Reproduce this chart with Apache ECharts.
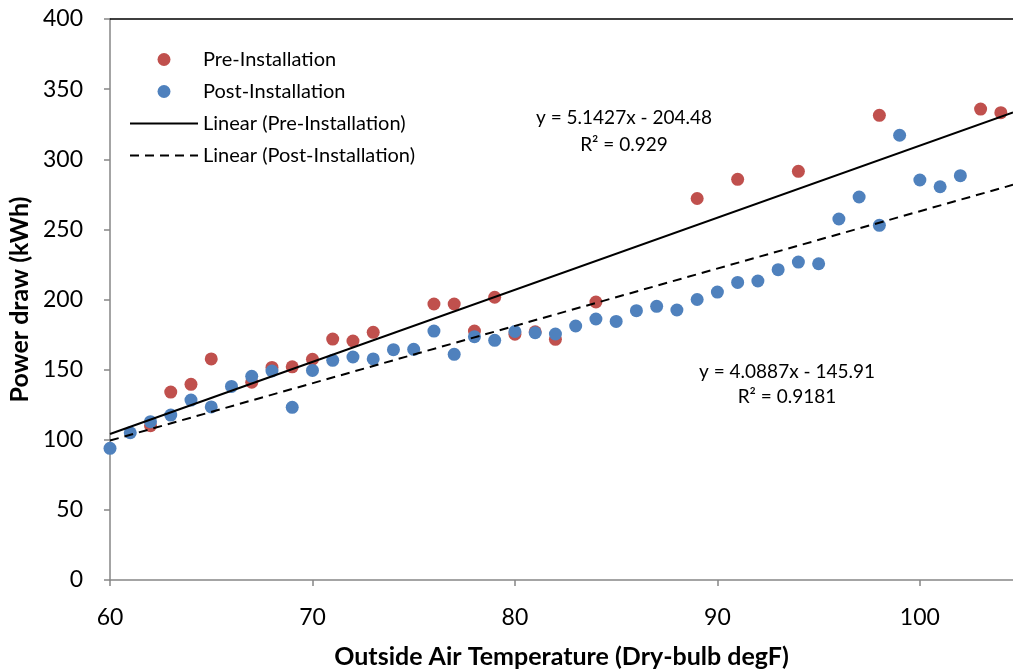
<!DOCTYPE html>
<html>
<head>
<meta charset="utf-8">
<script src="https://cdn.jsdelivr.net/npm/echarts@6/dist/echarts.min.js"></script>
<style>
html,body{margin:0;padding:0;background:#fff;}
#chart{width:1013px;height:671px;}
</style>
</head>
<body>
<div id="chart"></div>
<script>
// ---- data ----
var preX = [62,63,64,65,67,68,69,70,71,72,73,76,77,78,79,80,81,82,84,89,91,94,98,103,104];
var preY = [110,134,139.5,157.6,141,151.6,152,157.4,171.8,170.4,176.6,196.8,196.8,177.5,201.6,175.3,177,171.6,198.2,272,285.7,291.4,331.3,335.8,333.2];
var postX = [60,61,62,63,64,65,66,67,68,69,70,71,72,73,74,75,76,77,78,79,80,81,82,83,84,85,86,87,88,89,90,91,92,93,94,95,96,97,98,99,100,101,102];
var postY = [93.9,105,112.9,117.6,128.3,123.4,138,145.2,149,123.1,149.4,156.6,159,157.6,164.2,164.5,177.5,160.9,173.5,170.9,177.2,176.3,175.4,181.1,186.1,184.4,192,195.1,192.5,200,205.3,212.2,213.2,221.3,226.7,225.5,257.4,273.1,252.9,317.1,285.2,280.4,288.3];
var preFit = {slope: 5.1427, intercept: -204.48, r2: '0.929'};
var postFit = {slope: 4.0887, intercept: -145.91, r2: '0.9181'};
var seriesNames = ['Pre-Installation','Post-Installation','Linear (Pre-Installation)','Linear (Post-Installation)'];
var xMin = 60, xMax = 104.6, xInterval = 10;
var yMin = 0, yMax = 400, yInterval = 50;
var xTitle = 'Outside Air Temperature (Dry-bulb degF)';
var yTitle = 'Power draw (kWh)';

function pairs(xs, ys){ return xs.map(function(x,i){return [x, ys[i]];}); }
function fitLine(f){ return [xMin, xMax].map(function(x){return [x, f.slope*x + f.intercept];}); }
function eqText(f){ return 'y = ' + f.slope + 'x - ' + Math.abs(f.intercept); }

var FONT = 'Lato, "Open Sans", sans-serif';
var RED = '#C0504D', BLUE = '#4F81BD';

var chart = echarts.init(document.getElementById('chart'), null, {renderer:'canvas'});
chart.setOption({
  animation: false,
  backgroundColor: '#ffffff',
  textStyle: {fontFamily: FONT},
  grid: {left: 110, right: 0, top: 19, bottom: 91, containLabel: false, outerBoundsMode: 'none'},
  legend: {
    orient: 'vertical', left: 124, top: 44,
    itemWidth: 68, itemHeight: 13, itemGap: 11,
    textStyle: {fontFamily: FONT, fontSize: 20, color: '#000', lineHeight: 21},
    data: [
      {name: seriesNames[0]},
      {name: seriesNames[1]},
      {name: seriesNames[2], itemStyle: {opacity: 0}},
      {name: seriesNames[3], itemStyle: {opacity: 0}}
    ]
  },
  xAxis: [{
    type: 'value', min: xMin, max: xMax, interval: xInterval,
    name: xTitle, nameLocation: 'middle', nameGap: 64,
    nameTextStyle: {fontFamily: FONT, fontSize: 25, fontWeight: 'bold', color: '#000'},
    axisLine: {lineStyle: {color: '#868686', width: 1.5}},
    axisTick: {show: true, length: 6, lineStyle: {color: '#868686', width: 1.5}},
    axisLabel: {fontFamily: FONT, fontSize: 23, color: '#000', margin: 26, showMaxLabel: false},
    splitLine: {show: false}
  },{
    type: 'value', position: 'top', min: xMin, max: xMax,
    axisLine: {show: true, lineStyle: {color: '#000', width: 1.5}},
    axisTick: {show: false}, axisLabel: {show: false}, splitLine: {show: false}
  }],
  yAxis: {
    type: 'value', min: yMin, max: yMax, interval: yInterval,
    name: yTitle, nameLocation: 'middle', nameGap: 74, nameRotate: 90,
    nameTextStyle: {fontFamily: FONT, fontSize: 25, fontWeight: 'bold', color: '#000'},
    axisLine: {show: true, lineStyle: {color: '#868686', width: 1.5}},
    axisTick: {show: true, length: 6, lineStyle: {color: '#868686', width: 1.5}},
    axisLabel: {fontFamily: FONT, fontSize: 23, color: '#000', margin: 27},
    splitLine: {show: false}
  },
  series: [
    {name: seriesNames[0], type: 'scatter', data: pairs(preX, preY), symbol: 'circle', symbolSize: 13, itemStyle: {color: RED, opacity: 1}, z: 3},
    {name: seriesNames[1], type: 'scatter', data: pairs(postX, postY), symbol: 'circle', symbolSize: 13, itemStyle: {color: BLUE, opacity: 1}, z: 4},
    {name: seriesNames[2], type: 'line', data: fitLine(preFit), showSymbol: false, color: '#000', lineStyle: {color: '#000', width: 2, type: 'solid'}, itemStyle: {color: '#000'}, z: 5},
    {name: seriesNames[3], type: 'line', data: fitLine(postFit), showSymbol: false, color: '#000', lineStyle: {color: '#000', width: 2, type: [9, 6]}, itemStyle: {color: '#000'}, z: 5}
  ],
  graphic: [
    {type: 'text', x: 624, y: 118, style: {text: eqText(preFit), font: '19px ' + FONT, fill: '#000', textAlign: 'center', textVerticalAlign: 'middle'}},
    {type: 'text', x: 624, y: 145, style: {text: 'R² = ' + preFit.r2, font: '19px ' + FONT, fill: '#000', textAlign: 'center', textVerticalAlign: 'middle'}},
    {type: 'text', x: 787, y: 372, style: {text: eqText(postFit), font: '19px ' + FONT, fill: '#000', textAlign: 'center', textVerticalAlign: 'middle'}},
    {type: 'text', x: 787, y: 397, style: {text: 'R² = ' + postFit.r2, font: '19px ' + FONT, fill: '#000', textAlign: 'center', textVerticalAlign: 'middle'}}
  ]
});
</script>
</body>
</html>
